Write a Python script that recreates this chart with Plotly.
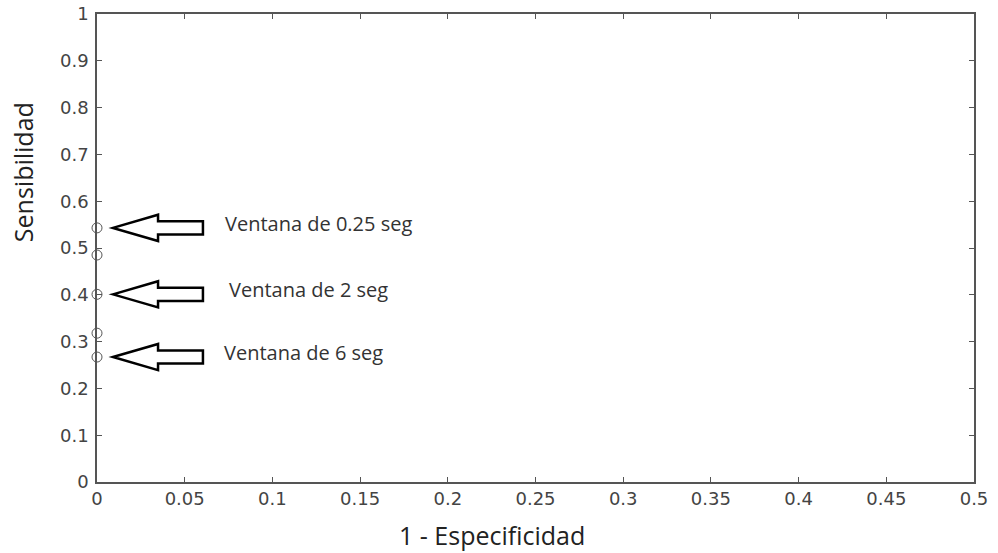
import plotly.graph_objects as go

# Data
fpr = [0, 0, 0, 0, 0]
sens = [0.543, 0.485, 0.401, 0.318, 0.267]
arrow_y = [0.543, 0.401, 0.267]
arrow_labels = ["Ventana de 0.25 seg", "Ventana de 2 seg", "Ventana de 6 seg"]
label_x = [0.0720, 0.0742, 0.0715]
x_ticks = [0, 0.05, 0.1, 0.15, 0.2, 0.25, 0.3, 0.35, 0.4, 0.45, 0.5]
x_tick_text = ["0", "0.05", "0.1", "0.15", "0.2", "0.25", "0.3", "0.35", "0.4", "0.45", "0.5"]
y_ticks = [0, 0.1, 0.2, 0.3, 0.4, 0.5, 0.6, 0.7, 0.8, 0.9, 1]
y_tick_text = ["0", "0.1", "0.2", "0.3", "0.4", "0.5", "0.6", "0.7", "0.8", "0.9", "1"]

fig = go.Figure()
fig.add_trace(go.Scatter(
    x=fpr, y=sens, mode="markers",
    marker=dict(symbol="circle-open", size=10, color="#555555", line=dict(width=1, color="#555555")),
    showlegend=False, cliponaxis=False, hoverinfo="skip"))

# Block arrows (outline) pointing left to the markers
tip_dx, head_dx, tail_dx = 0.0091, 0.0348, 0.0604
head_h, shaft_h = 0.028, 0.014
for yv in arrow_y:
    path = (f"M {tip_dx},{yv} L {head_dx},{yv+head_h} L {head_dx},{yv+shaft_h} "
            f"L {tail_dx},{yv+shaft_h} L {tail_dx},{yv-shaft_h} L {head_dx},{yv-shaft_h} "
            f"L {head_dx},{yv-head_h} Z")
    fig.add_shape(type="path", path=path, xref="x", yref="y",
                  line=dict(color="black", width=2.5), fillcolor="white")

for lx, yv, txt in zip(label_x, arrow_y, arrow_labels):
    fig.add_annotation(x=lx, y=yv + 0.010, text=txt, showarrow=False, xanchor="left", yanchor="middle",
                       font=dict(family="Open Sans, sans-serif", size=20, color="#333333"))

fig.add_annotation(text="1 - Especificidad", xref="paper", yref="paper", x=0.450, y=-0.1132,
                   xanchor="center", yanchor="middle", showarrow=False,
                   font=dict(family="Open Sans, sans-serif", size=25, color="#222222"))
fig.add_annotation(text="Sensibilidad", xref="paper", yref="paper", x=-0.0844, y=0.662,
                   xanchor="center", yanchor="middle", showarrow=False, textangle=-90,
                   font=dict(family="Open Sans, sans-serif", size=25, color="#222222"))

axis_common = dict(showgrid=False, zeroline=False, showline=True, linecolor="#555555", linewidth=1.5,
                   mirror="allticks", ticks="inside", ticklen=5, tickcolor="#555555", automargin=False,
                   ticklabeloverflow="allow",
                   tickfont=dict(family="DejaVu Sans, sans-serif", size=18, color="#444444"))
fig.update_xaxes(range=[0, 0.5], tickvals=x_ticks, ticktext=x_tick_text, **axis_common)
fig.update_yaxes(range=[0, 1], tickvals=y_ticks, ticktext=y_tick_text, ticklabelstandoff=3, **axis_common)

fig.update_layout(width=998, height=553, margin=dict(l=97, r=24, t=14, b=71),
                  plot_bgcolor="white", paper_bgcolor="white", hovermode=False)
fig.write_html("out.html", config={"displayModeBar": False},
               post_script="document.body.style.margin='0';")
